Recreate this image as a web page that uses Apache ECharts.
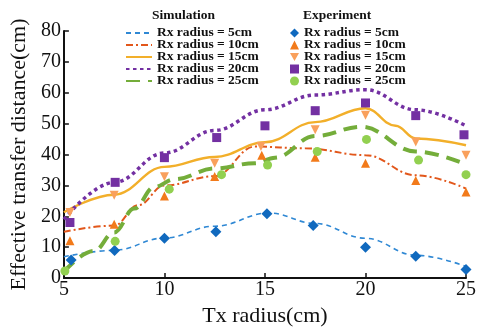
<!DOCTYPE html>
<html>
<head>
<meta charset="utf-8">
<script src="https://cdn.jsdelivr.net/npm/echarts@6/dist/echarts.min.js"></script>
<style>
  html, body { margin: 0; padding: 0; background: #fff; }
  #chart { width: 479px; height: 332px; }
</style>
</head>
<body>
<div id="chart"></div>
<script>
// Legend labels shared by both groups
const rxLabels = ['Rx radius = 5cm', 'Rx radius = 10cm', 'Rx radius = 15cm', 'Rx radius = 20cm', 'Rx radius = 25cm'];

// Axis ticks
const xTicks = { min: 5, max: 25, step: 5 };
const yTicks = { min: 0, max: 80, step: 10 };

// Simulated curves: [Tx radius (cm), effective distance (cm)]
const sim5 = [[5, 6.9], [7.5, 9], [10, 13], [12.5, 16.8], [15.2, 21.1], [17.5, 17.7], [20, 12.9], [22.5, 7.4], [25, 3.8]];
const sim10 = [[5, 15], [7.5, 17], [8.7, 23.6], [10, 30], [12.5, 33], [14.5, 42.6], [17, 42], [20, 39.8], [22.5, 33.3], [25, 29]];
const sim15 = [[5, 21.3], [7.5, 27], [10, 36], [12.5, 39.2], [15, 44], [17.5, 50.5], [20, 55], [21.5, 49.3], [22.5, 45.2], [25, 43]];
const sim20 = [[5, 19], [7.5, 31], [10, 40.5], [12.5, 47.8], [15, 54.5], [17.5, 59.3], [20, 61], [22.5, 54.5], [25, 49.3]];
const sim25 = [[5, 2], [6.5, 8.8], [7.5, 14.8], [8.5, 22.5], [9.5, 29.5], [10.5, 32], [12.5, 35.5], [14.5, 37.2], [15.5, 39], [17.5, 46], [19.8, 49], [22.5, 41], [25, 36.8]];

// Measured points: [Tx radius (cm), effective distance (cm)]
const exp5 = [[5.36, 5.9], [7.52, 8.9], [10, 12.9], [12.56, 15], [15.1, 20.8], [17.4, 17], [20, 10], [22.5, 7.1], [25, 2.8]];
const exp10 = [[5.3, 12.1], [7.5, 17.4], [10, 26.6], [12.5, 32.9], [14.84, 39.8], [17.5, 39.1], [20, 37.2], [22.5, 31.6], [25, 27.9]];
const exp15 = [[5.3, 21.2], [7.5, 26.8], [10, 32.8], [12.5, 37.2], [14.8, 42.6], [17.5, 48], [20, 52.7], [22.5, 44.1], [25, 39.8]];
const exp20 = [[5.3, 18], [7.55, 31], [10, 39], [12.6, 45.5], [15, 49.3], [17.5, 54.2], [20, 56.7], [22.5, 52.6], [24.9, 46.4]];
const exp25 = [[5.05, 2.3], [7.55, 11.9], [10.24, 28.8], [12.84, 33.5], [15.13, 36.6], [17.6, 41], [20.05, 44.9], [22.64, 38.2], [25, 33.5]];

const serif = 'Liberation Serif';

const simStyles = [
  { color: '#2F88D4', width: 1.6, type: [5, 4] },
  { color: '#E2571B', width: 2, type: [7, 3, 2, 3] },
  { color: '#F2AF2A', width: 2.4, type: 'solid' },
  { color: '#7330A2', width: 3.5, type: [3.5, 3.5] },
  { color: '#74AD3A', width: 4, type: [14, 8] }
];
const expStyles = [
  { color: '#1069BE', symbol: 'diamond', size: 11 },
  { color: '#F27A1A', symbol: 'triangle', size: 9 },
  { color: '#F9A05C', symbol: 'path://M0,0 L10,0 L5,9 Z', size: 9 },
  { color: '#7330A2', symbol: 'rect', size: 9 },
  { color: '#92D050', symbol: 'circle', size: 9 }
];

const simData = [sim5, sim10, sim15, sim20, sim25];
const expData = [exp5, exp10, exp15, exp20, exp25];

const series = [];
simData.forEach((d, i) => {
  const s = simStyles[i];
  series.push({
    name: 'sim|' + rxLabels[i],
    type: 'line',
    data: d,
    smooth: 0.4,
    smoothMonotone: 'x',
    symbol: 'none',
    lineStyle: { color: s.color, width: s.width, type: s.type },
    itemStyle: { color: s.color },
    z: 2
  });
});
expData.forEach((d, i) => {
  const s = expStyles[i];
  series.push({
    name: 'exp|' + rxLabels[i],
    type: 'scatter',
    data: d,
    symbol: s.symbol,
    symbolSize: s.size,
    itemStyle: { color: s.color, opacity: 1 },
    z: 3
  });
});

const legendText = {
  fontFamily: serif, fontWeight: 'bold', fontSize: 13.5, color: '#111', lineHeight: 12
};
const headText = { fontFamily: serif, fontWeight: 'bold', fontSize: 13.5, color: '#111' };

const chart = echarts.init(document.getElementById('chart'), null, { renderer: 'canvas' });
chart.setOption({
  animation: false,
  backgroundColor: '#fff',
  title: [
    { text: 'Simulation', left: 152, top: 9, padding: 0, textStyle: headText },
    { text: 'Experiment', left: 303, top: 9, padding: 0, textStyle: headText }
  ],
  legend: [
    {
      data: rxLabels.map(l => 'sim|' + l),
      orient: 'vertical', left: 125, top: 26,
      itemWidth: 26, itemHeight: 12, itemGap: -2, itemTextGap: 0,
      padding: 0,
      itemStyle: { opacity: 0 },
      formatter: n => n.split('|')[1],
      textStyle: legendText
    },
    {
      data: rxLabels.map(l => 'exp|' + l),
      orient: 'vertical', left: 290, top: 26,
      itemWidth: 9, itemHeight: 9, itemGap: -2, itemTextGap: 1,
      padding: 0,
      formatter: n => n.split('|')[1],
      textStyle: legendText
    }
  ],
  grid: { left: 59, right: 10, top: 31, bottom: 43, containLabel: false },
  xAxis: {
    type: 'value',
    min: xTicks.min, max: xTicks.max, interval: xTicks.step,
    name: 'Tx radius(cm)', nameLocation: 'middle', nameGap: 15,
    nameTextStyle: { fontFamily: serif, fontSize: 22, color: '#111' },
    axisLine: { lineStyle: { color: '#111', width: 2 } },
    axisTick: { inside: true, length: 5, lineStyle: { color: '#111', width: 1.5 } },
    axisLabel: { fontFamily: serif, fontSize: 20, color: '#111', margin: 2 },
    splitLine: { show: false }
  },
  yAxis: {
    type: 'value',
    min: yTicks.min, max: yTicks.max, interval: yTicks.step,
    name: 'Effective transfer distance(cm)', nameLocation: 'middle', nameGap: 22,
    nameTextStyle: { fontFamily: serif, fontSize: 22, color: '#111' },
    axisLine: { show: true, lineStyle: { color: '#111', width: 2 } },
    axisTick: { show: true, inside: true, length: 5, lineStyle: { color: '#111', width: 1.5 } },
    axisLabel: { fontFamily: serif, fontSize: 20, color: '#111', margin: 3 },
    splitLine: { show: false }
  },
  series: series
});
</script>
</body>
</html>
